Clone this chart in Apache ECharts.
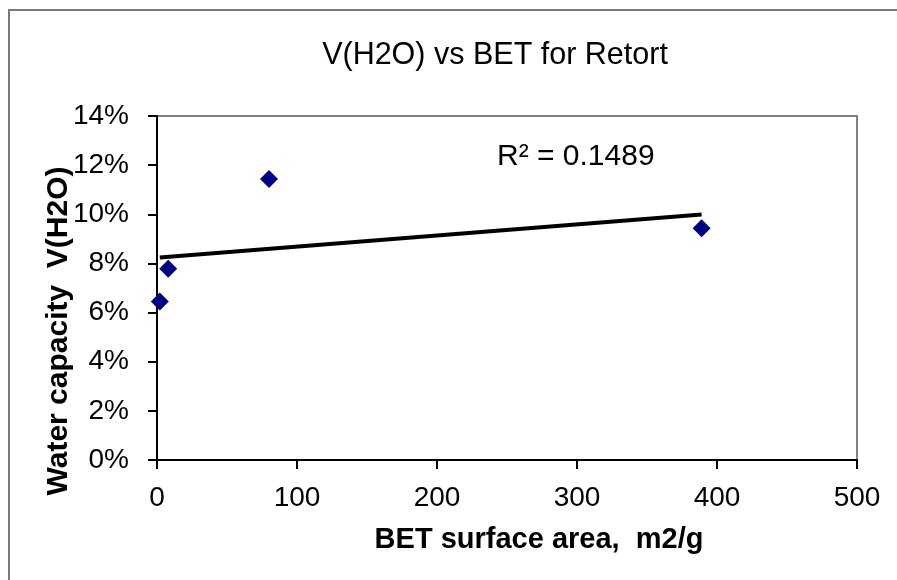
<!DOCTYPE html>
<html>
<head>
<meta charset="utf-8">
<script src="https://cdn.jsdelivr.net/npm/echarts@6/dist/echarts.min.js"></script>
<style>
html,body{margin:0;padding:0;background:#fff;}
#c{width:897px;height:580px;}
</style>
</head>
<body>
<div id="c"></div>
<script>
// Data
var betArea = [2, 8, 80, 389];                 // BET surface area, m2/g
var waterCapacity = [0.0645, 0.0778, 0.1144, 0.0943]; // V(H2O)
var xTicks = [0, 100, 200, 300, 400, 500];
var yTicks = [0, 0.02, 0.04, 0.06, 0.08, 0.10, 0.12, 0.14];
var rSquaredLabel = 'R² = 0.1489';

// Linear least-squares trendline from the data
function fit(xs, ys) {
  var n = xs.length, mx = 0, my = 0;
  for (var i = 0; i < n; i++) { mx += xs[i]; my += ys[i]; }
  mx /= n; my /= n;
  var sxy = 0, sxx = 0;
  for (var j = 0; j < n; j++) { sxy += (xs[j] - mx) * (ys[j] - my); sxx += (xs[j] - mx) * (xs[j] - mx); }
  var b = sxy / sxx, a = my - b * mx;
  return { a: a, b: b };
}
var f = fit(betArea, waterCapacity);
var xMin = Math.min.apply(null, betArea), xMax = Math.max.apply(null, betArea);
var trend = [[xMin, f.a + f.b * xMin], [xMax, f.a + f.b * xMax]];

var points = betArea.map(function (x, i) { return [x, waterCapacity[i]]; });

var font = 'Liberation Sans, Arial, sans-serif';
var chart = echarts.init(document.getElementById('c'), null, { renderer: 'canvas' });
chart.setOption({
  backgroundColor: '#ffffff',
  animation: false,
  title: {
    text: 'V(H2O) vs BET for Retort',
    left: 490, top: 35, textAlign: 'center',
    textStyle: { fontFamily: font, fontSize: 30.5, fontWeight: 'normal', color: '#000' }
  },
  grid: {
    left: 157, top: 116, right: 40, bottom: 120,
    show: true, borderColor: '#808080', borderWidth: 2, backgroundColor: '#fff'
  },
  xAxis: {
    type: 'value', min: 0, max: 500, interval: 100,
    name: 'BET surface area,  m2/g',
    nameLocation: 'middle', nameGap: 65, nameMoveOverlap: false,
    nameTextStyle: { fontFamily: font, fontSize: 29, fontWeight: 'bold', color: '#000', padding: [0, 0, 0, 64] },
    axisLine: { show: true, onZero: false, lineStyle: { color: '#000', width: 2 } },
    axisTick: { show: true, inside: false, length: 9, lineStyle: { color: '#000', width: 2 } },
    axisLabel: { margin: 24, fontFamily: font, fontSize: 28, color: '#000',
      formatter: function (v) { return xTicks.indexOf(v) >= 0 ? String(v) : ''; } },
    splitLine: { show: false }
  },
  yAxis: {
    type: 'value', min: 0, max: 0.14, interval: 0.02,
    name: 'Water capacity  V(H2O)',
    nameLocation: 'middle', nameGap: 83, nameRotate: 90, nameMoveOverlap: false,
    nameTextStyle: { fontFamily: font, fontSize: 30, fontWeight: 'bold', color: '#000', padding: [0, 86, 0, 0] },
    axisLine: { show: true, onZero: false, lineStyle: { color: '#000', width: 2 } },
    axisTick: { show: true, inside: false, length: 9, lineStyle: { color: '#000', width: 2 } },
    axisLabel: { margin: 28, fontFamily: font, fontSize: 28, color: '#000',
      formatter: function (v) {
        for (var i = 0; i < yTicks.length; i++) {
          if (Math.abs(yTicks[i] - v) < 1e-9) return Math.round(yTicks[i] * 100) + '%';
        }
        return '';
      } },
    splitLine: { show: false }
  },
  graphic: [
    { type: 'rect', shape: { x: 9, y: 10, width: 920, height: 600 },
      style: { fill: 'none', stroke: '#7a7a7a', lineWidth: 2 }, silent: true, z: 100 },
    { type: 'text', left: 497, top: 142,
      style: { text: rSquaredLabel, font: 'normal 30px ' + font, fill: '#000' }, z: 100 }
  ],
  series: [
    {
      type: 'line', data: trend, symbol: 'none', silent: true,
      lineStyle: { color: '#000', width: 4 }, z: 2
    },
    {
      type: 'scatter', data: points, symbol: 'diamond', symbolSize: [18, 18],
      itemStyle: { color: '#000080', opacity: 1 }, z: 3
    }
  ]
});
</script>
</body>
</html>
